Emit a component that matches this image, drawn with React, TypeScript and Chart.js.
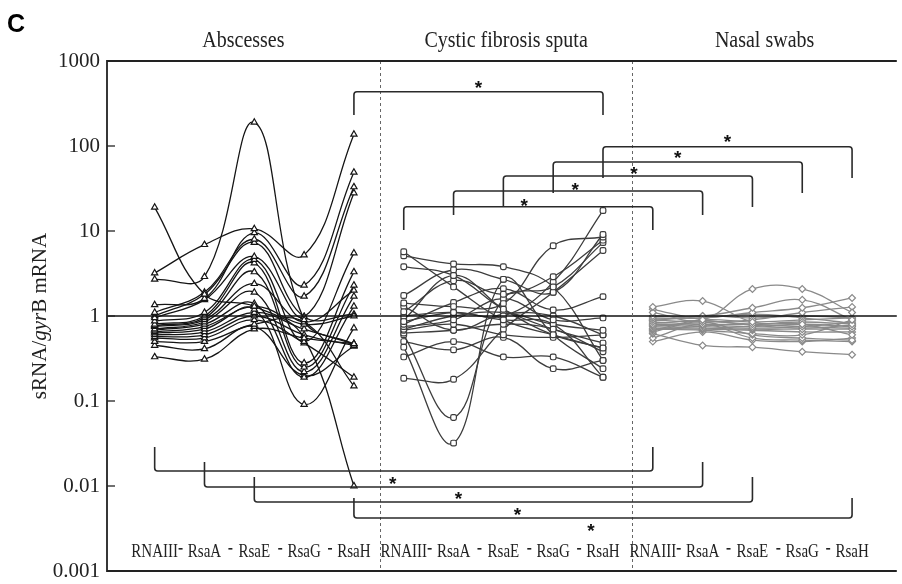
import React, { useEffect, useRef } from "react";
import { Chart, registerables } from "chart.js";

Chart.register(...registerables);

// ---------------- data ----------------
const categories = ["RNAIII", "RsaA", "RsaE", "RsaG", "RsaH"];
const groups = ["Abscesses", "Cystic fibrosis sputa", "Nasal swabs"];
const yTickValues = [0.001, 0.01, 0.1, 1, 10, 100, 1000];
const yTickLabels = ["0.001", "0.01", "0.1", "1", "10", "100", "1000"];

// each row: one sample, values for RNAIII, RsaA, RsaE, RsaG, RsaH
const abscesses: number[][] = [
  [19, 1.8, 1.3, 0.55, 0.01],
  [3.2, 6.9, 10.6, 5.2, 137],
  [2.7, 2.9, 190, 0.9, 0.47],
  [1.35, 1.6, 9.5, 2.3, 49],
  [1.1, 1.9, 8.0, 1.7, 33],
  [0.95, 1.55, 5.0, 0.98, 28],
  [0.87, 1.1, 4.6, 0.5, 5.5],
  [0.8, 1.0, 4.2, 0.28, 3.3],
  [0.77, 0.95, 3.3, 0.25, 2.3],
  [0.75, 0.9, 2.4, 0.85, 2.0],
  [0.7, 0.85, 1.9, 0.22, 1.7],
  [0.68, 0.8, 1.4, 0.19, 1.3],
  [0.65, 0.75, 1.3, 0.8, 1.0],
  [0.63, 0.7, 1.2, 0.091, 0.72],
  [0.6, 0.65, 1.1, 0.7, 0.47],
  [0.57, 0.6, 1.0, 0.6, 0.45],
  [0.55, 0.55, 0.9, 0.48, 0.19],
  [0.5, 0.5, 0.8, 0.85, 0.15],
  [0.45, 0.41, 0.75, 0.2, 0.44],
  [0.33, 0.31, 0.7, 0.55, 0.47],
  [1.0, 1.8, 7.3, 0.98, 1.05],
];

const cfSputa: number[][] = [
  [5.7, 2.2, 0.9, 0.6, 0.42],
  [5.1, 4.1, 3.8, 2.2, 0.3],
  [3.8, 3.0, 1.2, 0.7, 0.48],
  [1.74, 3.5, 2.7, 1.9, 9.1],
  [1.42, 1.29, 1.4, 6.7, 8.5],
  [1.12, 2.6, 1.8, 2.9, 7.8],
  [0.86, 1.1, 1.0, 2.5, 17.4],
  [0.8, 1.44, 2.1, 1.18, 1.69],
  [0.75, 0.9, 1.6, 0.9, 0.95],
  [0.7, 1.0, 1.1, 0.8, 0.68],
  [0.68, 0.8, 0.6, 0.56, 0.6],
  [0.63, 0.68, 0.8, 0.7, 0.38],
  [0.6, 0.064, 1.6, 2.2, 7.3],
  [0.43, 0.032, 2.7, 0.6, 0.24],
  [0.33, 0.5, 0.33, 0.33, 0.19],
  [0.185, 0.18, 0.7, 1.9, 5.9],
  [0.5, 0.4, 0.56, 0.24, 0.3],
  [1.0, 1.1, 0.9, 0.8, 0.19],
  [0.9, 3.0, 1.2, 0.6, 0.42],
  [1.3, 0.68, 1.05, 1.0, 0.6],
];

const nasalSwabs: number[][] = [
  [1.28, 1.5, 0.85, 0.8, 0.6],
  [1.1, 0.9, 2.08, 2.08, 1.1],
  [1.0, 1.0, 1.25, 1.55, 0.9],
  [0.95, 0.95, 1.1, 1.25, 1.63],
  [0.9, 0.85, 0.9, 1.1, 1.28],
  [0.85, 0.8, 0.8, 0.85, 0.8],
  [0.8, 0.78, 0.75, 0.8, 0.75],
  [0.78, 0.75, 0.72, 0.75, 0.85],
  [0.75, 0.72, 0.7, 0.7, 0.7],
  [0.72, 0.7, 0.68, 0.65, 0.65],
  [0.7, 0.68, 0.62, 0.6, 0.9],
  [0.68, 0.9, 0.85, 0.9, 0.95],
  [0.65, 0.85, 0.6, 0.55, 0.52],
  [0.62, 0.45, 0.43, 0.38, 0.35],
  [0.55, 0.8, 0.55, 0.52, 0.5],
  [0.5, 0.65, 0.52, 0.5, 0.55],
  [0.88, 1.0, 0.95, 1.0, 0.95],
  [0.92, 0.95, 1.05, 0.95, 0.82],
  [0.82, 0.88, 0.78, 0.72, 0.78],
  [1.2, 0.9, 0.8, 0.75, 0.72],
];

// significant comparisons: [groupA, categoryA, groupB, categoryB]
const topComparisons = [
  [0, 4, 1, 4],
  [1, 0, 2, 0],
  [1, 1, 2, 1],
  [1, 2, 2, 2],
  [1, 3, 2, 3],
  [1, 4, 2, 4],
];
const bottomComparisons = [
  [0, 0, 2, 0],
  [0, 1, 2, 1],
  [0, 2, 2, 2],
  [0, 4, 2, 4],
];

// ---------------- styling ----------------
const groupStyles = [
  { color: "#151515", pointStyle: "triangle", radius: 3.6 },
  { color: "#3d3d3d", pointStyle: "rectRounded", radius: 3.3 },
  { color: "#8a8a8a", pointStyle: "rectRot", radius: 3.4 },
];
const allGroups = [abscesses, cfSputa, nasalSwabs];
const perGroup = categories.length;
const groupDividers = [4.52, 9.59];

// bracket geometry (pixels): [lineY, endY, starDx, starY]
const topBracketGeom = [
  [91.7, 115, 0, 83],
  [206.7, 230, -4, 201],
  [191, 215, -3, 185],
  [176, 207, 6, 169],
  [162, 193, 0, 153],
  [146.7, 178, 0, 137],
];
const bottomBracketGeom = [
  [471, 447, -11, 479],
  [487, 462, 5, 494],
  [502, 477, 14, 510],
  [518, 498, -12, 526],
];

const SERIF = "'Liberation Serif', 'DejaVu Serif', serif";

const overlayPlugin = {
  id: "overlay",
  afterDatasetsDraw(chart: any) {
    const { ctx, chartArea: a, scales } = chart;
    const xs = scales.x;
    const ys = scales.y;
    ctx.save();

    // horizontal line at 1
    ctx.strokeStyle = "#111";
    ctx.lineWidth = 1.6;
    ctx.beginPath();
    ctx.moveTo(a.left, ys.getPixelForValue(1));
    ctx.lineTo(a.right, ys.getPixelForValue(1));
    ctx.stroke();

    // dashed dividers
    ctx.strokeStyle = "#666";
    ctx.lineWidth = 1;
    ctx.setLineDash([3, 3]);
    for (const d of groupDividers) {
      const px = Math.round(xs.getPixelForValue(d)) + 0.5;
      ctx.beginPath();
      ctx.moveTo(px, a.top);
      ctx.lineTo(px, a.bottom);
      ctx.stroke();
    }
    ctx.setLineDash([]);

    // frame: top, left, bottom
    ctx.strokeStyle = "#222";
    ctx.lineWidth = 1.8;
    ctx.beginPath();
    ctx.moveTo(a.right, a.top);
    ctx.lineTo(a.left, a.top);
    ctx.lineTo(a.left, a.bottom);
    ctx.lineTo(a.right, a.bottom);
    ctx.stroke();

    // inward ticks
    ctx.lineWidth = 1.3;
    for (const v of yTickValues) {
      const py = ys.getPixelForValue(v);
      ctx.beginPath();
      ctx.moveTo(a.left, py);
      ctx.lineTo(a.left + 8, py);
      ctx.stroke();
    }

    // brackets
    const catX = (g: number, c: number) => xs.getPixelForValue(g * perGroup + c);
    const drawBracket = (x1: number, x2: number, yl: number, ye: number) => {
      const r = 3;
      const dir = ye > yl ? 1 : -1;
      ctx.beginPath();
      ctx.moveTo(x1, ye);
      ctx.lineTo(x1, yl + dir * r);
      ctx.quadraticCurveTo(x1, yl, x1 + r, yl);
      ctx.lineTo(x2 - r, yl);
      ctx.quadraticCurveTo(x2, yl, x2, yl + dir * r);
      ctx.lineTo(x2, ye);
      ctx.stroke();
    };
    const drawStar = (x: number, y: number) => {
      ctx.fillStyle = "#111";
      ctx.font = "bold 19px 'Liberation Sans', Arial, sans-serif";
      ctx.textAlign = "center";
      ctx.textBaseline = "alphabetic";
      ctx.fillText("*", x, y + 11);
    };
    ctx.strokeStyle = "#2a2a2a";
    ctx.lineWidth = 1.6;
    topComparisons.forEach((cmp, i) => {
      const [g1, c1, g2, c2] = cmp;
      const [yl, ye, sdx, sy] = topBracketGeom[i];
      const x1 = catX(g1, c1);
      const x2 = catX(g2, c2);
      drawBracket(x1, x2, yl, ye);
      drawStar((x1 + x2) / 2 + sdx, sy);
    });
    bottomComparisons.forEach((cmp, i) => {
      const [g1, c1, g2, c2] = cmp;
      const [yl, ye, sdx, sy] = bottomBracketGeom[i];
      const x1 = catX(g1, c1);
      const x2 = catX(g2, c2);
      drawBracket(x1, x2, yl, ye);
      drawStar((x1 + x2) / 2 + sdx, sy);
    });

    // category labels along the bottom
    ctx.fillStyle = "#222";
    ctx.font = `15px ${SERIF}`;
    ctx.textAlign = "center";
    ctx.textBaseline = "middle";
    for (let g = 0; g < groups.length; g++) {
      for (let c = 0; c < categories.length; c++) {
        const px = catX(g, c);
        ctx.save();
        ctx.translate(px, 552);
        ctx.scale(1, 1.2);
        ctx.fillText(categories[c], 0, 0);
        ctx.restore();
        if (c < categories.length - 1) {
          const mx = (catX(g, c) + catX(g, c + 1)) / 2 + 1;
          ctx.fillRect(mx - 2, 548, 4, 1.6);
        }
      }
    }

    // group headers
    ctx.font = `20px ${SERIF}`;
    ctx.textBaseline = "middle";
    const bounds = [a.left, xs.getPixelForValue(groupDividers[0]), xs.getPixelForValue(groupDividers[1]), a.right];
    groups.forEach((name, g) => {
      const cx = (bounds[g] + bounds[g + 1]) / 2;
      ctx.save();
      ctx.translate(cx, 41);
      ctx.scale(1, 1.15);
      ctx.fillText(name, 0, 0);
      ctx.restore();
    });

    // panel letter
    ctx.font = "bold 25px 'Liberation Sans', Arial, sans-serif";
    ctx.textAlign = "left";
    ctx.textBaseline = "alphabetic";
    ctx.fillStyle = "#000";
    ctx.fillText("C", 7, 32);

    // y axis title with italic gene name
    const parts: [string, string][] = [
      ["sRNA/", "normal"],
      ["gyr", "italic"],
      ["B mRNA", "normal"],
    ];
    ctx.save();
    ctx.translate(40, (a.top + a.bottom) / 2);
    ctx.rotate(-Math.PI / 2);
    ctx.fillStyle = "#222";
    ctx.textBaseline = "middle";
    ctx.textAlign = "left";
    let total = 0;
    for (const [t, s] of parts) {
      ctx.font = `${s} 21px ${SERIF}`;
      total += ctx.measureText(t).width;
    }
    let cx = -total / 2;
    for (const [t, s] of parts) {
      ctx.font = `${s} 21px ${SERIF}`;
      ctx.fillText(t, cx, 0);
      cx += ctx.measureText(t).width;
    }
    ctx.restore();

    ctx.restore();
  },
};

export default function App() {
  const canvasRef = useRef<HTMLCanvasElement | null>(null);

  useEffect(() => {
    document.body.style.margin = "0";
    document.body.style.overflow = "hidden";
    const canvas = canvasRef.current;
    if (!canvas) return;

    const datasets: any[] = [];
    allGroups.forEach((rows, g) => {
      const st = groupStyles[g];
      rows.forEach((row, i) => {
        datasets.push({
          label: `${groups[g]} ${i + 1}`,
          data: row.map((v, c) => ({ x: g * perGroup + c, y: v })),
          borderColor: st.color,
          borderWidth: 1.3,
          tension: 0.4,
          fill: false,
          pointStyle: st.pointStyle,
          pointRadius: st.radius,
          pointBorderColor: st.color,
          pointBackgroundColor: "#ffffff",
          pointBorderWidth: 1.2,
        });
      });
    });

    const chart = new Chart(canvas, {
      type: "line",
      data: { datasets },
      options: {
        animation: false,
        responsive: false,
        devicePixelRatio: 1,
        layout: { padding: { top: 61, bottom: 13, left: 0, right: 0 } },
        plugins: {
          legend: { display: false },
          tooltip: { enabled: false },
        },
        scales: {
          x: {
            type: "linear",
            min: -0.957,
            max: 14.898,
            display: false,
          },
          y: {
            type: "logarithmic",
            min: 0.001,
            max: 1000,
            position: "left",
            grid: { display: false, drawTicks: false },
            border: { display: false },
            afterBuildTicks: (scale: any) => {
              scale.ticks = yTickValues.map((v) => ({ value: v }));
            },
            afterFit: (scale: any) => {
              scale.width = 107;
              scale.paddingTop = 0;
              scale.paddingBottom = 0;
            },
            ticks: {
              padding: 7,
              color: "#222",
              font: { family: SERIF, size: 21 },
              callback: (v: any) => {
                const idx = yTickValues.findIndex((t) => Math.abs(Math.log10(t) - Math.log10(v)) < 1e-6);
                return idx >= 0 ? yTickLabels[idx] : "";
              },
            },
          },
        },
      },
      plugins: [overlayPlugin],
    });

    return () => chart.destroy();
  }, []);

  return (
    <div style={{ width: 902, height: 584, background: "#fff" }}>
      <canvas ref={canvasRef} width={902} height={584} style={{ display: "block" }} />
    </div>
  );
}
